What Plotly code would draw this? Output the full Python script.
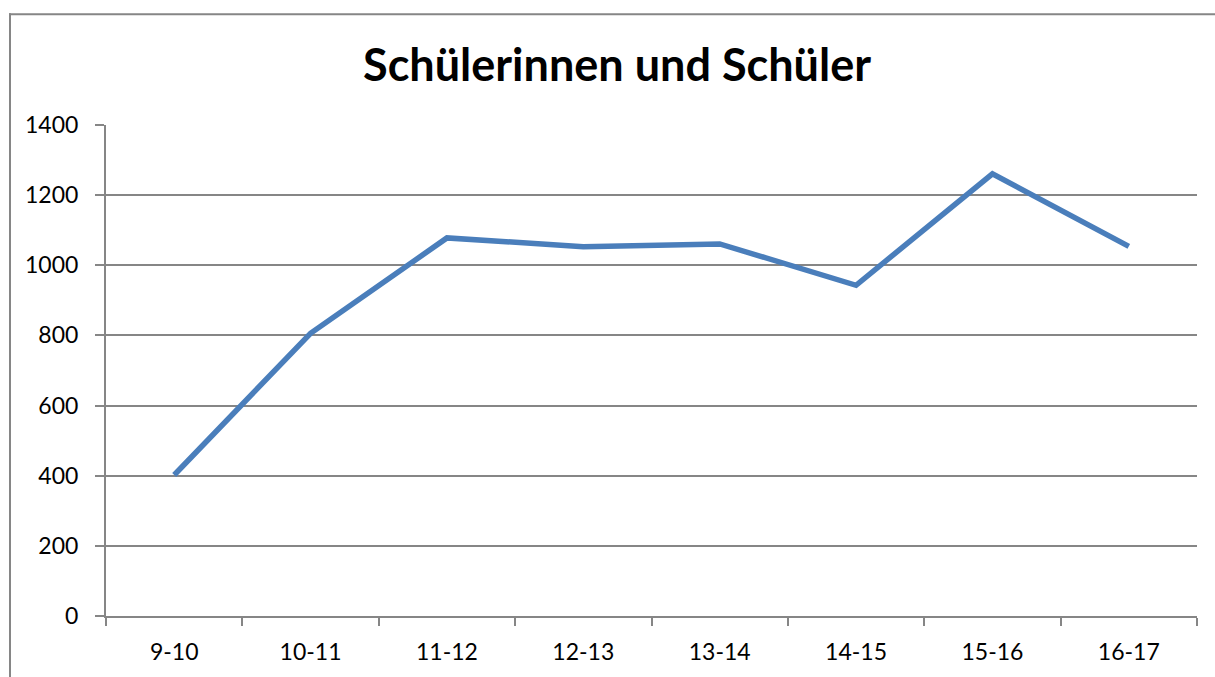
import plotly.graph_objects as go

categories = ["9-10", "10-11", "11-12", "12-13", "13-14", "14-15", "15-16", "16-17"]
values = [402, 806, 1078, 1053, 1061, 943, 1261, 1054]
y_ticks = [0, 200, 400, 600, 800, 1000, 1200, 1400]

W, H = 1215, 677
ML, MR, MT, MB = 106, 18, 125, 56

fig = go.Figure()
fig.add_trace(go.Scatter(
    x=categories, y=values, mode="lines",
    line=dict(color="#4A7EBB", width=5.5),
    hoverinfo="x+y",
))

pw = W - ML - MR
ph = H - MT - MB

def px_x(p):
    return (p - ML) / pw

def px_y(p):
    return (H - MB - p) / ph

border = dict(color="#868686", width=2)
# chart-area frame: top and left edges (the right/bottom edges fall outside the picture)
fig.add_shape(type="line", xref="paper", yref="paper",
              x0=px_x(9), x1=px_x(1230), y0=px_y(13), y1=px_y(13), line=border, layer="below")
fig.add_shape(type="line", xref="paper", yref="paper",
              x0=px_x(10), x1=px_x(10), y0=px_y(12), y1=px_y(700), line=border, layer="below")

fig.update_layout(
    width=W, height=H,
    margin=dict(l=ML, r=MR, t=MT, b=MB, pad=0),
    paper_bgcolor="white", plot_bgcolor="white",
    showlegend=False,
    title=dict(text="<b>Schülerinnen und Schüler</b>", x=617 / W,
               xanchor="center", y=1 - 65 / H, yanchor="middle",
               font=dict(family="Lato", size=45, color="black")),
    font=dict(family="Lato", size=23, color="black"),
)

fig.update_xaxes(
    type="category", range=[-0.5, len(categories) - 0.5],
    tickson="boundaries", ticks="outside", ticklen=8,
    tickcolor="#868686", tickwidth=2, showline=True, linecolor="#868686", linewidth=2,
    showgrid=False, zeroline=False, ticklabelstandoff=14,
    tickfont=dict(family="Lato", size=23, color="black"),
)
fig.update_yaxes(
    range=[0, 1400], tickvals=y_ticks, ticks="outside", ticklen=9,
    tickcolor="#868686", tickwidth=2, showline=True, linecolor="#868686", linewidth=2,
    showgrid=True, gridcolor="#868686", gridwidth=2, zeroline=False,
    ticklabelstandoff=12,
    tickfont=dict(family="Lato", size=23, color="black"),
)

fig.write_html("out.html", config={"displayModeBar": False},
               post_script="document.body.style.margin='0';document.body.style.overflow='hidden';")
